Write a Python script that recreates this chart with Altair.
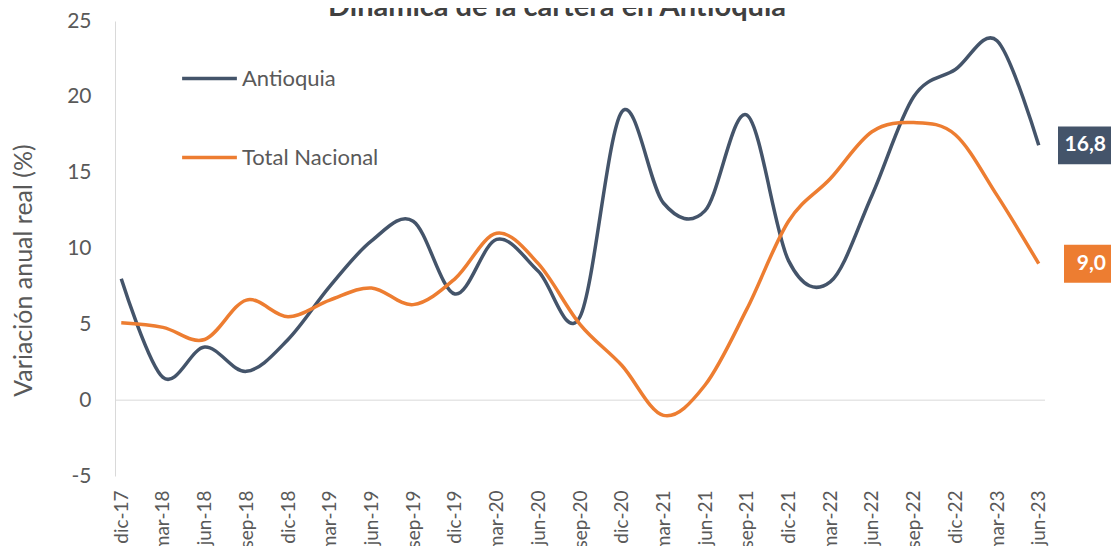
import altair as alt
import pandas as pd

periods = ["dic-17","mar-18","jun-18","sep-18","dic-18","mar-19","jun-19","sep-19",
           "dic-19","mar-20","jun-20","sep-20","dic-20","mar-21","jun-21","sep-21",
           "dic-21","mar-22","jun-22","sep-22","dic-22","mar-23","jun-23"]
antioquia = [8.0,1.5,3.5,1.9,4.0,7.5,10.5,11.8,7.0,10.6,8.5,5.5,19.0,13.0,12.5,18.8,
             9.2,7.8,13.5,20.0,21.8,23.7,16.8]
nacional = [5.1,4.8,4.0,6.6,5.5,6.6,7.4,6.3,8.0,11.0,9.0,5.0,2.3,-1.0,1.0,6.0,
            11.8,14.6,17.7,18.3,17.5,13.5,9.0]
series_names = ["Antioquia", "Total Nacional"]
series_colors = ["#44546A", "#ED7D31"]
end_labels = ["16,8", "9,0"]
title_text = "Dinámica de la cartera en Antioquia"
y_title = "Variación anual real (%)"

FONT = "Lato"
GRAY = "#595959"

rows = []
for i, p in enumerate(periods):
    rows.append({"periodo": p, "serie": series_names[0], "valor": antioquia[i], "orden": i})
    rows.append({"periodo": p, "serie": series_names[1], "valor": nacional[i], "orden": i})
df = pd.DataFrame(rows)

ends = pd.DataFrame({
    "serie": series_names,
    "valor": [antioquia[-1], nacional[-1]],
    "label": end_labels,
    "lo": [antioquia[-1] - 1.25, nacional[-1] - 1.25],
    "hi": [antioquia[-1] + 1.25, nacional[-1] + 1.25],
})

xscale = alt.Scale(domain=periods, type="point", padding=0.15)
yscale = alt.Scale(domain=[-5, 25], nice=False, zero=False)
yaxis = alt.Axis(title=y_title, values=[-5, 0, 5, 10, 15, 20, 25], labelFontSize=21,
                 labelExpr="datum.value + ''",
                 labelColor=GRAY, labelFont=FONT, labelPadding=24, ticks=False,
                 grid=False, domainColor="#D9D9D9", titleFontSize=25,
                 titleFont=FONT, titleColor=GRAY, titleFontWeight="normal",
                 titlePadding=30, titleY=249)
color = alt.Color("serie:N", scale=alt.Scale(domain=series_names, range=series_colors),
                  legend=alt.Legend(title=None, orient="none", legendX=65, legendY=28,
                                    symbolType="stroke", symbolSize=3000, symbolStrokeWidth=3.5,
                                    labelFontSize=22, labelColor=GRAY, labelFont=FONT,
                                    rowPadding=38, labelOffset=3, direction="vertical"))

lines = alt.Chart(df).mark_line(interpolate="cardinal", strokeWidth=3.5).encode(
    x=alt.X("periodo:O", scale=xscale, sort=periods,
            axis=alt.Axis(title=None, labelAngle=-90, labelAlign="right", labelBaseline="middle",
                          labelFontSize=19, labelColor=GRAY, labelFont=FONT, labelPadding=14,
                          domain=False, ticks=False, grid=False)),
    y=alt.Y("valor:Q", scale=yscale, axis=yaxis),
    color=color,
    order="orden:Q",
)

zero = alt.Chart(pd.DataFrame({"valor": [0]})).mark_rule(color="#D9D9D9", strokeWidth=1).encode(
    y=alt.Y("valor:Q", scale=yscale, axis=yaxis), x=alt.value(0), x2=alt.value(930)
)

box_x = {"Antioquia": 943, "Total Nacional": 949}
boxes = alt.layer(*[
    alt.Chart(ends[ends["serie"] == s]).mark_rect(color=c).encode(
        y=alt.Y("lo:Q", scale=yscale, axis=yaxis), y2="hi:Q",
        x=alt.value(box_x[s]), x2=alt.value(996),
    ) for s, c in zip(series_names, series_colors)
])
box_text = alt.Chart(ends).mark_text(color="white", fontWeight="bold", fontSize=21, font=FONT,
                                    align="right", baseline="middle").encode(
    y=alt.Y("valor:Q", scale=yscale, axis=yaxis), x=alt.value(991), text="label:N"
)

title = alt.Chart(pd.DataFrame({"t": [title_text]})).mark_text(
    fontSize=29, fontWeight="bold", font=FONT, color="#404040", align="center",
    baseline="alphabetic").encode(x=alt.value(442), y=alt.value(-5), text="t:N")

chart = alt.layer(zero, lines, boxes, box_text, title).properties(
    width=930, height=455,
    padding={"left": 107, "top": 13, "right": 66, "bottom": 70},
    autosize=alt.AutoSizeParams(type="none"),
).configure(font=FONT).configure_view(stroke="transparent", strokeWidth=0)

chart.save("out.html", embed_options={"renderer": "svg", "actions": False})
